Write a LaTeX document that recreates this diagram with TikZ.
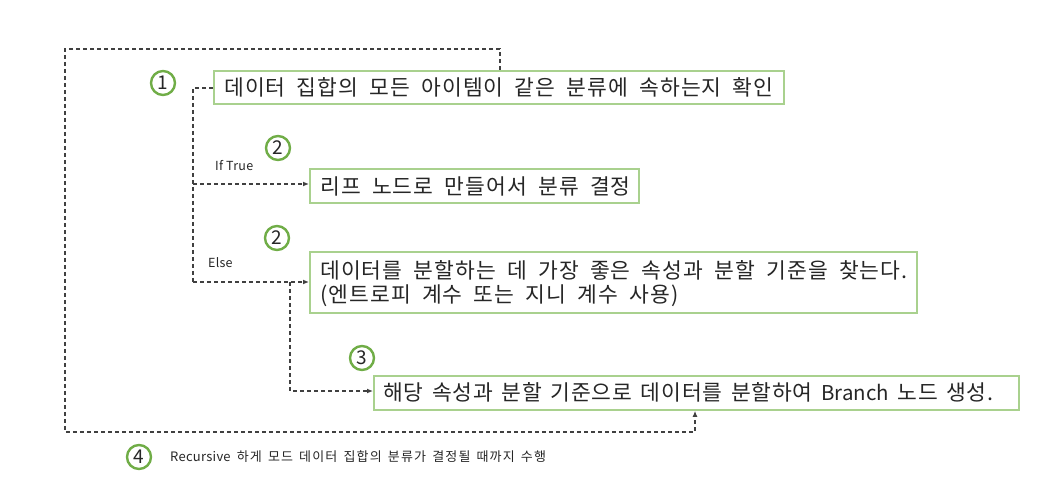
\documentclass[tikz,border=0pt]{standalone}
\usepackage{fontspec}
\setmainfont{Noto Sans CJK KR}
\usetikzlibrary{arrows.meta}
\definecolor{boxgreen}{HTML}{A9D18E}
\definecolor{circgreen}{HTML}{70AD47}
\definecolor{linegray}{HTML}{404040}
\newfontfamily\bigtxt[LetterSpace=5,WordSpace=1.9]{Noto Sans CJK KR}
\newfontfamily\bigtxtb[LetterSpace=4,WordSpace=1.5]{Noto Sans CJK KR}
\newfontfamily\latintxt[LetterSpace=0,Scale=0.95]{Noto Sans CJK KR}
\newfontfamily\smalltxt[LetterSpace=9,WordSpace=1.5]{Noto Sans CJK KR}
\newfontfamily\smalllat[LetterSpace=2]{Noto Sans CJK KR}
\tikzset{
  stepbox/.style={draw=boxgreen, line width=1.8pt, fill=white, anchor=north west, inner sep=0pt},
  boxtext/.style={anchor=west, inner sep=0pt, font=\bigtxt\fontsize{21.5}{26}\selectfont, text=black!85},
  numcirc/.style={circle, draw=circgreen, line width=2.4pt, minimum size=24pt, inner sep=0pt, font=\fontsize{19}{19}\selectfont, text=black!85},
  conn/.style={draw=linegray, line width=1.2pt, dash pattern=on 4pt off 3pt},
  arr/.style={conn, -{Latex[length=6pt,width=5pt]}},
  small/.style={font=\smalltxt\fontsize{13}{15}\selectfont, inner sep=0pt, text=black!85},
  smalllab/.style={font=\smalllat\fontsize{12.5}{15}\selectfont, inner sep=0pt, text=black!85}
}
\begin{document}
\begin{tikzpicture}[x=1pt,y=-1pt]
\useasboundingbox (0,0) rectangle (1047,478);
% boxes
\node[stepbox, minimum width=570pt, minimum height=33pt] (b1) at (213,70) {};
\node[boxtext] (t1) at (224,87) {데이터 집합의 모든 아이템이 같은 분류에 속하는지 확인};
\node[stepbox, minimum width=329pt, minimum height=34pt] (b2) at (309,168) {};
\node[boxtext] (t2) at (320,186) {리프 노드로 만들어서 분류 결정};
\node[stepbox, minimum width=607pt, minimum height=61pt] (b3) at (309,251) {};
\node[boxtext] (t3a) at (320,270) {데이터를 분할하는 데 가장 좋은 속성과 분할 기준을 찾는다.};
\node[boxtext] (t3b) at (320,296) {(엔트로피 계수 또는 지니 계수 사용)};
\node[stepbox, minimum width=645pt, minimum height=34pt] (b4) at (373,375) {};
\node[boxtext, font=\bigtxtb\fontsize{21.5}{26}\selectfont] (t4) at (383,392) {해당 속성과 분할 기준으로 데이터를 분할하여 {\latintxt Branch} 노드 생성.};
% circles
\node[numcirc] (c1) at (163,83) {1};
\node[numcirc] (c2) at (278,148) {2};
\node[numcirc] (c2b) at (277,238) {2};
\node[numcirc] (c3) at (362,358) {3};
\node[numcirc] (c4) at (139,457) {4};
% labels
\node[smalllab, anchor=west] (lt) at (215,166) {If True};
\node[smalllab, anchor=west] (le) at (208,263) {Else};
\node[small, anchor=west] (l4) at (170,457) {{\smalllat Recursive} 하게 모드 데이터 집합의 분류가 결정될 때까지 수행};
% connectors
\coordinate (j1) at (193,88);
\coordinate (j2) at (193,184);
\coordinate (j3) at (193,282);
\coordinate (j4) at (290,282);
\coordinate (j5) at (290,391);
\draw[conn] (b1.west |- j1) -- (j1) -- (j3);
\draw[arr] (j2) -- (b2.west |- j2);
\draw[arr] (j3) -- (b3.west |- j3);
\draw[arr] (j4) -- (j5) -- (b4.west |- j5);
\coordinate (r1) at (500,49);
\coordinate (r2) at (65,49);
\coordinate (r3) at (65,432);
\coordinate (r4) at (695,432);
\draw[arr] (b1.north -| r1) -- (r1) -- (r2) -- (r3) -- (r4) -- (b4.south -| r4);
\end{tikzpicture}
\end{document}
